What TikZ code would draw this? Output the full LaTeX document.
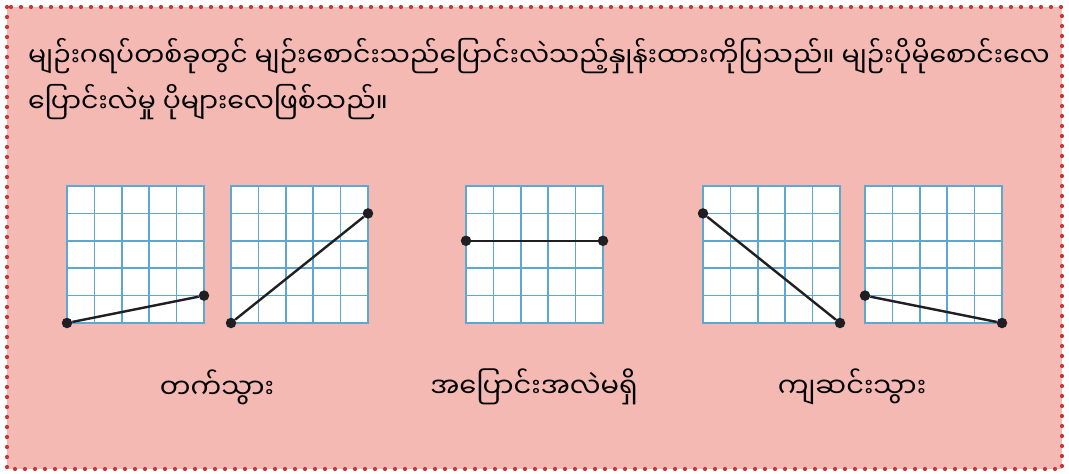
\documentclass[tikz,border=0pt]{standalone}
\usepackage{fontspec}
\newfontfamily\mm[Script=Myanmar]{Noto Sans Myanmar UI}
\definecolor{pinkbg}{RGB}{245,185,180}
\definecolor{dotred}{RGB}{200,55,55}
\definecolor{gridblue}{RGB}{92,168,210}
\definecolor{linedark}{RGB}{30,30,35}
\tikzset{
  gridcell/.style={draw=gridblue, line width=1.6pt},
  gridframe/.style={draw=gridblue, line width=2.4pt},
  pt/.style={circle, fill=linedark, inner sep=0pt, minimum size=10.5pt},
  seg/.style={draw=linedark, line width=2.4pt},
  bodytext/.style={anchor=west, inner sep=0pt, font=\mm\fontsize{26.7}{32}\selectfont},
  lbl/.style={inner sep=0pt, font=\mm\fontsize{27.3}{32}\selectfont}
}
\newcommand{\mygrid}[2]{%
  \fill[white] (#1,#2) rectangle ++(137,137);
  \foreach \k in {1,2,3,4}{
    \draw[gridcell] (#1+\k*27.4,#2) -- ++(0,137);
    \draw[gridcell] (#1,#2+\k*27.4) -- ++(137,0);
  }
  \draw[gridframe] (#1,#2) rectangle ++(137,137);
}
\begin{document}
\begin{tikzpicture}[x=1pt,y=-1pt]
\useasboundingbox (0,0) rectangle (1069,474);
\fill[white] (0,0) rectangle (1069,474);
\fill[pinkbg] (7,7) rectangle (1062,469);
\draw[dotred, line width=4.2pt, line cap=round, dash pattern=on 0pt off 10pt] (7,7) rectangle (1062,469);

\node[bodytext] (t1) at (28,56) {မျဉ်းဂရပ်တစ်ခုတွင် မျဉ်းစောင်းသည်ပြောင်းလဲသည့်နှုန်းထားကိုပြသည်။ မျဉ်းပိုမိုစောင်းလေ};
\node[bodytext] (t2) at (28,102) {ပြောင်းလဲမှု ပိုများလေဖြစ်သည်။};

\mygrid{67}{186}
\mygrid{231}{186}
\mygrid{466}{186}
\mygrid{703}{186}
\mygrid{865}{186}

\node[pt] (a1) at (67,323) {};
\node[pt] (a2) at (204,295.6) {};
\draw[seg] (a1) -- (a2);
\node[pt] (b1) at (231,323) {};
\node[pt] (b2) at (368,213.4) {};
\draw[seg] (b1) -- (b2);
\node[pt] (c1) at (466,240.8) {};
\node[pt] (c2) at (603,240.8) {};
\draw[seg] (c1) -- (c2);
\node[pt] (d1) at (703,213.4) {};
\node[pt] (d2) at (840,323) {};
\draw[seg] (d1) -- (d2);
\node[pt] (e1) at (865,295.6) {};
\node[pt] (e2) at (1002,323) {};
\draw[seg] (e1) -- (e2);

\node[lbl] (l1) at (217,387) {တက်သွား};
\node[lbl] (l2) at (534,387) {အပြောင်းအလဲမရှိ};
\node[lbl] (l3) at (852,387) {ကျဆင်းသွား};
\end{tikzpicture}
\end{document}
